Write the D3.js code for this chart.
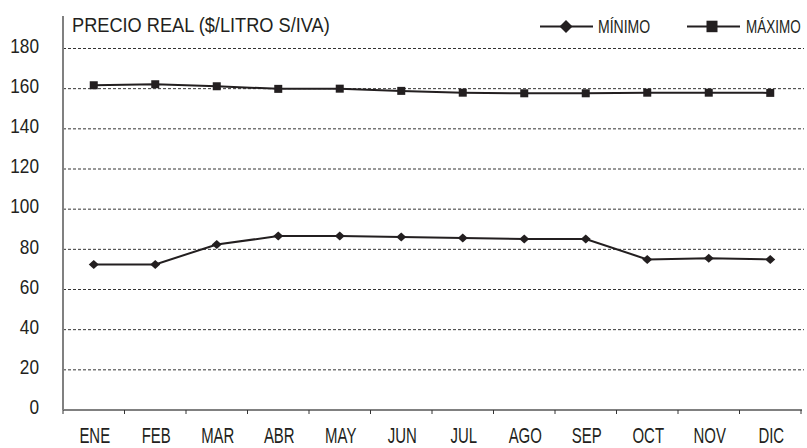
<!DOCTYPE html>
<html><head><meta charset="utf-8">
<script src="https://cdn.jsdelivr.net/npm/d3@7"></script>
<style>
body{margin:0;background:#fff;}
text{font-family:"Liberation Sans",Arial,sans-serif;fill:#231f20;}
</style></head>
<body><svg id="c" width="807" height="448"></svg>
<script>
const months = ["ENE","FEB","MAR","ABR","MAY","JUN","JUL","AGO","SEP","OCT","NOV","DIC"];
const minimo = [72.5,72.5,82.4,86.6,86.6,86.1,85.6,85.2,85.1,75.0,75.5,75.0];
const maximo = [161.7,162.2,161.2,159.9,160.0,158.9,158.0,157.7,157.7,158.0,158.0,157.9];
const yTicks = [0,20,40,60,80,100,120,140,160,180];
const title = "PRECIO REAL ($/LITRO S/IVA)";
const legendLabels = ["MÍNIMO","MÁXIMO"];

const svg = d3.select("#c");
const L = 63, R = 801, B = 410;
const x = d3.scaleBand().domain(months).range([L, R]);
const y = d3.scaleLinear().domain([0,180]).range([B, 48.5]);
const ink = "#231f20";

function diamondPath(hw, hh){
  const p = d3.path();
  p.moveTo(0,-hh); p.lineTo(hw,0); p.lineTo(0,hh); p.lineTo(-hw,0); p.closePath();
  return p.toString();
}

// gridlines
svg.append("g").selectAll("line").data(yTicks.filter(d=>d>0)).join("line")
  .attr("x1", L).attr("x2", 804).attr("y1", d=>y(d)).attr("y2", d=>y(d))
  .attr("stroke", "#333").attr("stroke-width", 1).attr("stroke-dasharray", "3,2");

// y labels
svg.append("g").selectAll("text").data(yTicks).join("text")
  .attr("transform", d=>`translate(39,${y(d)+4.2}) scale(0.82,1)`)
  .attr("text-anchor", "end").attr("font-size", 21).text(d=>d);

// axes
svg.append("line").attr("x1", L).attr("x2", L).attr("y1", 16).attr("y2", B)
  .attr("stroke", "#808080").attr("stroke-width", 2);
svg.append("line").attr("x1", L).attr("x2", R+1).attr("y1", B).attr("y2", B)
  .attr("stroke", "#808080").attr("stroke-width", 2);
const bounds = months.map(m=>x(m)).concat([R]);
svg.append("g").selectAll("line").data(bounds).join("line")
  .attr("x1", d=>d).attr("x2", d=>d).attr("y1", B).attr("y2", B+4)
  .attr("stroke", "#333").attr("stroke-width", 1);

// x labels
svg.append("g").selectAll("text").data(months).join("text")
  .attr("transform", d=>`translate(${x(d)+x.bandwidth()/2+1},443.3) scale(0.68,1)`)
  .attr("text-anchor", "middle").attr("font-size", 22).text(d=>d);

// title
svg.append("text").attr("transform","translate(72,31.7) scale(0.91,1)").attr("font-size", 20).text(title);

const line = d3.line().x((d,i)=>x(months[i])+x.bandwidth()/2).y(d=>y(d));

function series(data, kind){
  svg.append("path").datum(data).attr("d", line)
    .attr("fill","none").attr("stroke", ink).attr("stroke-width", 2);
  const g = svg.append("g");
  data.forEach((v,i)=>{
    const cx = x(months[i])+x.bandwidth()/2, cy = y(v);
    if(kind==="d"){
      g.append("path").attr("d", diamondPath(5,4.5)).attr("transform", `translate(${cx},${cy})`).attr("fill", ink);
    } else {
      g.append("rect").attr("x", cx-4).attr("y", cy-4).attr("width", 8).attr("height", 8).attr("fill", ink);
    }
  });
}
series(minimo, "d");
series(maximo, "s");

// legend
const lg = svg.append("g");
lg.append("line").attr("x1",540).attr("x2",593).attr("y1",26.5).attr("y2",26.5).attr("stroke",ink).attr("stroke-width",2);
lg.append("path").attr("d", diamondPath(6.5,6.5)).attr("transform","translate(566,26.5)").attr("fill",ink);
lg.append("text").attr("transform","translate(598,33) scale(0.78,1)").attr("font-size",18).text(legendLabels[0]);
lg.append("line").attr("x1",687).attr("x2",740).attr("y1",26.5).attr("y2",26.5).attr("stroke",ink).attr("stroke-width",2);
lg.append("rect").attr("x",706.5).attr("y",20.7).attr("width",11).attr("height",11.5).attr("fill",ink);
lg.append("text").attr("transform","translate(746,33) scale(0.75,1)").attr("font-size",18).text(legendLabels[1]);
</script></body></html>
